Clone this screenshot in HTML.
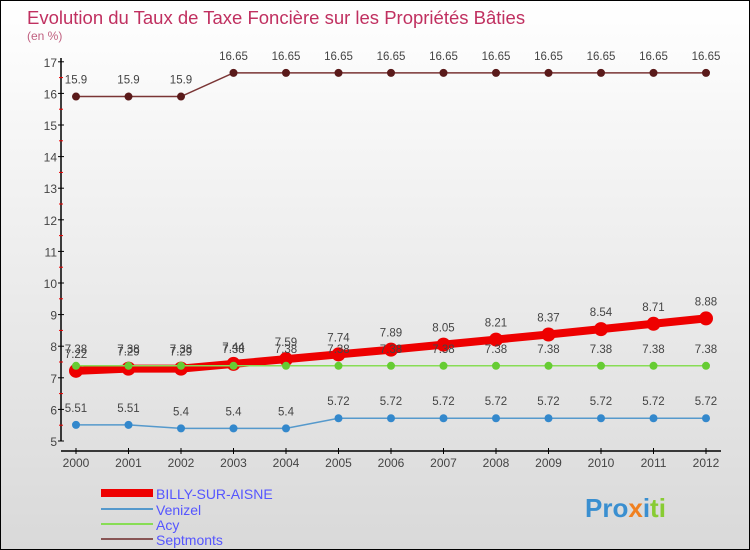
<!DOCTYPE html>
<html><head><meta charset="utf-8"><style>
body{margin:0}
#c{width:748px;height:548px;border:1px solid #000;background:linear-gradient(#fff,#d9d9d9);position:relative;font-family:"Liberation Sans",sans-serif;overflow:hidden}
svg text{font-family:"Liberation Sans",sans-serif}
</style></head><body>
<div id="c">
<svg id="s" width="748" height="548">
<text x="26" y="23" font-size="18.5" fill="#c03060">Evolution du Taux de Taxe Foncière sur les Propriétés Bâties</text>
<text x="26" y="39" font-size="12" fill="#c06080">(en %)</text>
<g id="axes"></g><g id="series"></g>
<g>
<rect x="100" y="488" width="52" height="8" fill="#e00"/>
<text x="155" y="498" font-size="14" fill="#55f">BILLY-SUR-AISNE</text>
<line x1="100" y1="508" x2="152" y2="508" stroke="#5599cc" stroke-width="2"/>
<text x="155" y="514" font-size="14" fill="#55f">Venizel</text>
<line x1="100" y1="523" x2="152" y2="523" stroke="#88dd55" stroke-width="2"/>
<text x="155" y="529" font-size="14" fill="#55f">Acy</text>
<line x1="100" y1="538" x2="152" y2="538" stroke="#885555" stroke-width="2"/>
<text x="155" y="544" font-size="14" fill="#55f">Septmonts</text>
</g>
<text x="584" y="516" font-size="26" font-weight="bold"><tspan fill="#3a8fd0">Pro</tspan><tspan fill="#f08020">x</tspan><tspan fill="#3a8fd0">i</tspan><tspan fill="#88cc33">ti</tspan></text>
</svg></div>
<script>
const years=[2000,2001,2002,2003,2004,2005,2006,2007,2008,2009,2010,2011,2012];
const billy=[7.22,7.29,7.29,7.44,7.59,7.74,7.89,8.05,8.21,8.37,8.54,8.71,8.88];
const venizel=[5.51,5.51,5.4,5.4,5.4,5.72,5.72,5.72,5.72,5.72,5.72,5.72,5.72];
const acy=[7.38,7.38,7.38,7.38,7.38,7.38,7.38,7.38,7.38,7.38,7.38,7.38,7.38];
const septmonts=[15.9,15.9,15.9,16.65,16.65,16.65,16.65,16.65,16.65,16.65,16.65,16.65,16.65];
const yTicks=[5,6,7,8,9,10,11,12,13,14,15,16,17];
const NS="http://www.w3.org/2000/svg";
const xs=i=>75+i*52.5, ys=v=>440-(v-5)*31.6;
function mk(t,a,p){const e=document.createElementNS(NS,t);for(const k in a)e.setAttribute(k,a[k]);p.appendChild(e);return e;}
const ax=document.getElementById('axes'), sg=document.getElementById('series');
const yl=mk('line',{x1:60,y1:57,x2:60,y2:440,stroke:'#000','stroke-width':1.5},ax);


const xl=mk('line',{x1:60,y1:450,x2:720,y2:450,stroke:'#000','stroke-width':1.5},ax);


yTicks.forEach(v=>{
  mk('line',{x1:57,y1:ys(v),x2:63,y2:ys(v),stroke:'#000'},ax);
  if(v<17) mk('line',{x1:58,y1:ys(v+0.5),x2:62,y2:ys(v+0.5),stroke:'#e00'},ax);
  const t=mk('text',{x:56,y:ys(v)+5,'font-size':12,fill:'#444','text-anchor':'end'},ax);t.textContent=v;
  
  
});
years.forEach((y,i)=>{
  mk('line',{x1:xs(i),y1:447,x2:xs(i),y2:453,stroke:'#000'},ax);
  const t=mk('text',{x:xs(i),y:466,'font-size':12,fill:'#444','text-anchor':'middle'},ax);t.textContent=y;
  
  
});
function series(d,name,col,w,r,dot){
  const g=mk('g',{},sg);
  
  
  mk('polyline',{points:d.map((v,i)=>xs(i)+','+ys(v)).join(' '),fill:'none',stroke:col,'stroke-width':w},g);
  d.forEach((v,i)=>{
    const c=mk('circle',{cx:xs(i),cy:ys(v),r:r,fill:dot},g);
    
    
    const t=mk('text',{x:xs(i),y:ys(v)-13,'font-size':11.5,fill:'#444','text-anchor':'middle'},g);t.textContent=v;
  });
}
series(septmonts,'septmonts','#7a3535',1.5,4,'#5a1a1a');
series(venizel,'venizel','#5599cc',1.5,4,'#3388cc');
series(billy,'billy','#e00',8,7,'#e00');
series(acy,'acy','#88dd55',1.5,4,'#66cc33');
</script></body></html>
